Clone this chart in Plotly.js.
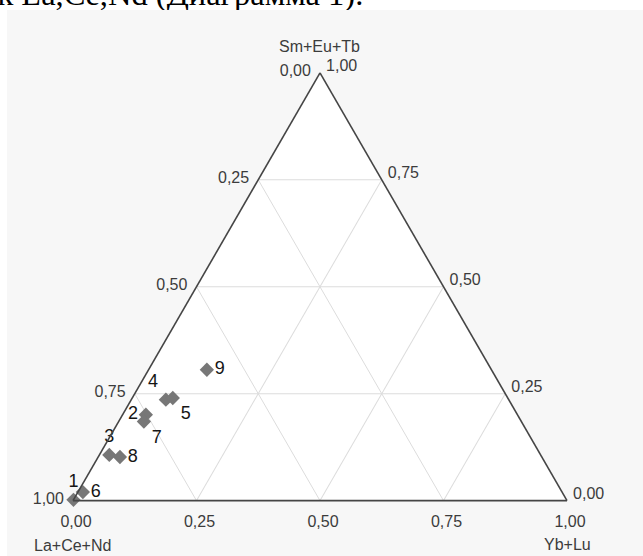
<!DOCTYPE html>
<html>
<head>
<meta charset="utf-8">
<script src="https://cdn.plot.ly/plotly-3.0.1.min.js"></script>
<style>
  html, body { margin:0; padding:0; background:#ffffff; width:643px; height:556px; overflow:hidden; }
  #caption { position:absolute; left:-17px; top:-22px; font-family:"Liberation Serif","Times New Roman",serif; font-size:32.5px; line-height:32.5px; color:#000; white-space:nowrap; }
  #chart { position:absolute; left:7px; top:10px; width:636px; height:546px; }
</style>
</head>
<body>
<div id="caption">ак La,Ce,Nd (Диаграмма 1).</div>
<div id="chart"></div>
<script>
// Sample labels and ternary compositions (fractions)
const sampleLabels = ['1','2','3','4','5','6','7','8','9'];
const smEuTb = [0.002, 0.201, 0.107, 0.236, 0.240, 0.020, 0.185, 0.102, 0.306];
const laCeNd = [0.998, 0.752, 0.873, 0.694, 0.678, 0.970, 0.764, 0.854, 0.576];
const ybLu   = [0.000, 0.047, 0.020, 0.070, 0.082, 0.010, 0.051, 0.044, 0.118];
const labelPositions = ['top center','middle left','top center','top left','bottom right','middle right','bottom right','middle right','middle right'];

// Axis titles (placed at the vertices) and tick labels
const axisTitles = ['Sm+Eu+Tb', 'La+Ce+Nd', 'Yb+Lu'];
const tickVals = [0, 0.25, 0.5, 0.75, 1];
const tickText = ['1,00', '0,75', '0,50', '0,25', '0,00'];

const axisFont = {family:'"Liberation Sans", Arial, sans-serif', size:16, color:'#3c3c3c'};

function axis() {
  return {
    title: {text: ''},
    tickmode: 'array',
    tickvals: tickVals,
    ticktext: tickText,
    tickfont: axisFont,
    ticks: 'outside',
    ticklen: 6,
    tickcolor: 'rgba(0,0,0,0)',
    linecolor: '#454545',
    linewidth: 1.6,
    showline: true,
    showgrid: true,
    gridcolor: '#dcdcdc',
    gridwidth: 1,
    min: 0
  };
}

const trace = {
  type: 'scatterternary',
  mode: 'markers+text',
  a: smEuTb,
  b: laCeNd,
  c: ybLu,
  text: sampleLabels,
  textposition: labelPositions,
  textfont: {family:'"Liberation Sans", Arial, sans-serif', size:18, color:'#151515'},
  marker: {symbol:'diamond', size:11, color:'#777777', line:{width:0}},
  cliponaxis: false,
  hoverinfo: 'skip'
};

const titlePlaces = [
  {x: 312/636, y: 1 - 37/546},
  {x: 65/636,  y: 1 - 535/546},
  {x: 560.5/636, y: 1 - 534/546}
];

const layout = {
  width: 636,
  height: 546,
  margin: {l:0, r:0, t:0, b:0},
  paper_bgcolor: '#f7f7f7',
  showlegend: false,
  ternary: {
    sum: 1,
    bgcolor: '#ffffff',
    domain: {x:[66/636, 560/636], y:[55/546, 483.5/546]},
    aaxis: axis(),
    baxis: axis(),
    caxis: axis()
  },
  annotations: axisTitles.map((t, i) => ({
    text: t, xref:'paper', yref:'paper', x: titlePlaces[i].x, y: titlePlaces[i].y,
    xanchor:'center', yanchor:'middle', showarrow:false, font: axisFont
  }))
};

Plotly.newPlot('chart', [trace], layout, {staticPlot:true, displayModeBar:false});
</script>
</body>
</html>
